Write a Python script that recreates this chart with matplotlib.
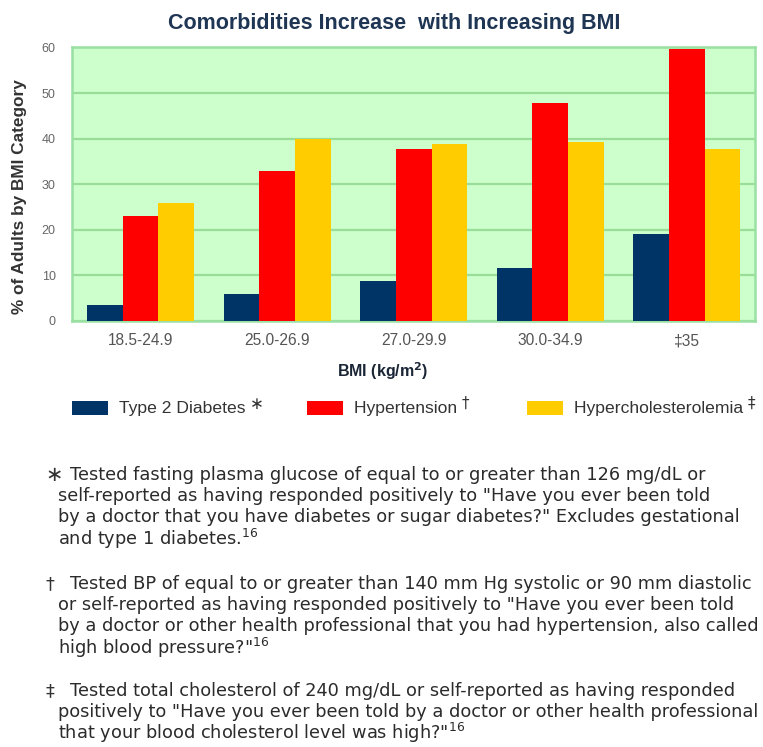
import matplotlib
matplotlib.use("Agg")
import matplotlib.pyplot as plt
from matplotlib.patches import Rectangle
import numpy as np

# BMI categories and prevalence (% of adults) per comorbidity
categories = ["18.5-24.9", "25.0-26.9", "27.0-29.9", "30.0-34.9", "\u202135"]
diabetes = [3.5, 5.9, 8.7, 11.6, 19.1]
hypertension = [23.0, 32.9, 37.8, 47.9, 59.7]
cholesterol = [25.9, 40.0, 38.7, 39.3, 37.8]
series_names = ["Type 2 Diabetes", "Hypertension", "Hypercholesterolemia"]
series_marks = ["\u2217", "\u2020", "\u2021"]
y_ticks = [0, 10, 20, 30, 40, 50, 60]

NAVY = "#003366"
RED = "#ff0000"
GOLD = "#ffcc00"
colors = [NAVY, RED, GOLD]

W, H = 763, 747
fig = plt.figure(figsize=(W / 100, H / 100), dpi=100)
fig.patch.set_facecolor("white")

def fx(px):
    return px / W

def fy(py):
    return 1 - py / H

ax_l, ax_r, ax_t, ax_b = 72.3, 755.0, 47.5, 320.7
ax = fig.add_axes([fx(ax_l), fy(ax_b), fx(ax_r - ax_l), (ax_b - ax_t) / H])
ax.set_facecolor("#ccffcc")

x = np.arange(len(categories))
bw = 0.2615
for k, vals in enumerate([diabetes, hypertension, cholesterol]):
    ax.bar(x + (k - 1) * bw, vals, width=bw, color=colors[k], zorder=3,
           linewidth=0)

ax.set_xlim(-0.5, 4.5)
ax.set_ylim(0, 60)
ax.set_yticks(y_ticks)
ax.set_yticklabels([str(t) for t in y_ticks], fontsize=9, color="#666666",
                   family="Liberation Sans")
ax.set_xticks(x)
ax.set_xticklabels(categories, fontsize=11.2, color="#555555",
                   family="Liberation Sans")
ax.tick_params(axis="y", length=0, pad=12)
ax.tick_params(axis="x", length=0, pad=9)
ax.yaxis.grid(True, color="#99dd99", linewidth=1.6, zorder=1)
ax.xaxis.grid(False)
for s in ax.spines.values():
    s.set_color("#99e0a2")
    s.set_linewidth(1.8)

# Title and axis labels
fig.text(fx(394), fy(23), "Comorbidities Increase  with Increasing BMI",
         ha="center", va="center", fontsize=15.5, fontweight="bold",
         color="#1f3554", family="Liberation Sans")
fig.text(fx(20), fy(197), "% of Adults by BMI Category", rotation=90,
         ha="center", va="center", fontsize=12.4, fontweight="bold",
         color="#333333", family="Liberation Sans")
fig.text(fx(382.5), fy(371), "BMI (kg/m$^\\mathbf{2}$)", ha="center",
         va="center", fontsize=11.5, fontweight="bold", color="#1a2535",
         family="Liberation Sans")

# Legend row
leg_y = 408
box_x = [71.7, 306.7, 526.7]
for k in range(3):
    fig.patches.append(Rectangle((fx(box_x[k]), fy(415)), fx(36.6),
                                 14.3 / H, transform=fig.transFigure,
                                 facecolor=colors[k], edgecolor="none"))
    t = fig.text(fx(box_x[k] + 47), fy(leg_y), series_names[k] + " ",
                 ha="left", va="center", fontsize=12.6, color="#333333",
                 family="Liberation Sans")
    fig.canvas.draw()
    bb = t.get_window_extent()
    fig.text(bb.x1 / W, fy(leg_y + (-4 if k == 0 else -5)), series_marks[k],
             ha="left", va="center", fontsize=12 if k == 0 else 11,
             color="#333333", family="DejaVu Sans")

# Footnotes
notes = [
    ("\u2217", 475, [
        "Tested fasting plasma glucose of equal to or greater than 126 mg/dL or",
        "self-reported as having responded positively to \"Have you ever been told",
        "by a doctor that you have diabetes or sugar diabetes?\" Excludes gestational",
        "and type 1 diabetes.$^{16}$",
    ]),
    ("\u2020", 584, [
        "Tested BP of equal to or greater than 140 mm Hg systolic or 90 mm diastolic",
        "or self-reported as having responded positively to \"Have you ever been told",
        "by a doctor or other health professional that you had hypertension, also called",
        "high blood pressure?\"$^{16}$",
    ]),
    ("\u2021", 691, [
        "Tested total cholesterol of 240 mg/dL or self-reported as having responded",
        "positively to \"Have you ever been told by a doctor or other health professional",
        "that your blood cholesterol level was high?\"$^{16}$",
    ]),
]
line_gap = 21.2
fn_size = 12.8
for mark, y0, lines in notes:
    fig.text(fx(45), fy(y0), mark, ha="left", va="center",
             fontsize=15 if mark == "\u2217" else fn_size, color="#333333",
             family="DejaVu Sans")
    for i, line in enumerate(lines):
        xs = 70.5 if i == 0 else 58.4
        fig.text(fx(xs), fy(y0 + i * line_gap), line, ha="left", va="center",
                 fontsize=fn_size, color="#2b2b2b", family="DejaVu Sans")

fig.savefig("out.png", dpi=100)
